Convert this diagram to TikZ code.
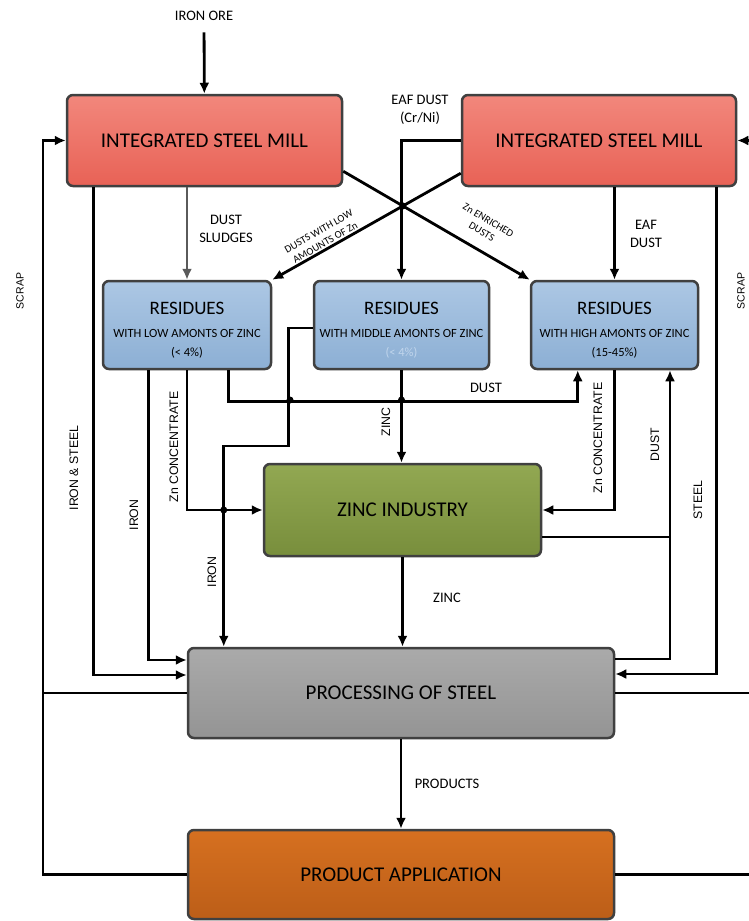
\documentclass[tikz,border=0pt]{standalone}
\usepackage{fontspec}
\setmainfont{Carlito}
\newfontfamily\labelfont{Liberation Sans}
\usepackage{xcolor}
\usepackage{tikz}
\usetikzlibrary{arrows.meta, calc, positioning}

\definecolor{edgeGray}{RGB}{64,64,64}
\definecolor{millTop}{RGB}{242,135,124}
\definecolor{millBot}{RGB}{232,98,86}
\definecolor{resTop}{RGB}{172,199,228}
\definecolor{resBot}{RGB}{140,175,212}
\definecolor{zincTop}{RGB}{146,168,82}
\definecolor{zincBot}{RGB}{120,142,60}
\definecolor{procTop}{RGB}{170,170,170}
\definecolor{procBot}{RGB}{148,148,148}
\definecolor{applTop}{RGB}{214,112,32}
\definecolor{applBot}{RGB}{188,94,24}
\definecolor{sludgeGray}{RGB}{90,90,90}
\definecolor{fadedText}{RGB}{192,213,236}

\newcommand{\restitle}{\rule{0pt}{22pt}{\fontsize{19}{23}\selectfont RESIDUES}}

\tikzset{
  box/.style={draw=edgeGray, line width=2.5pt, rounded corners=6pt, align=center,
    inner sep=0pt, text=black},
  millbox/.style={box, top color=millTop, bottom color=millBot,
    minimum height=91pt, font=\fontsize{21}{25}\selectfont},
  resbox/.style={box, top color=resTop, bottom color=resBot,
    minimum height=88pt, font=\fontsize{12.5}{19}\selectfont},
  zincbox/.style={box, top color=zincTop, bottom color=zincBot,
    minimum width=277pt, minimum height=92pt, font=\fontsize{21}{25}\selectfont},
  procbox/.style={box, top color=procTop, bottom color=procBot,
    minimum width=426pt, minimum height=90pt, font=\fontsize{21}{25}\selectfont},
  applbox/.style={box, top color=applTop, bottom color=applBot,
    minimum width=426pt, minimum height=89pt, font=\fontsize{21}{25}\selectfont},
  flow/.style={line width=2.8pt, -{Latex[length=11pt,width=10pt]}},
  link/.style={line width=2.8pt},
  lbl/.style={font=\fontsize{14.5}{18}\selectfont, align=center},
  difflbl/.style={font=\fontsize{10.5}{13}\selectfont, align=center, inner sep=1pt},
  vlbl/.style={font=\labelfont\fontsize{12.3}{14}\selectfont, rotate=90},
}

\begin{document}
\begin{tikzpicture}[x=1pt,y=-1pt]

        \useasboundingbox[fill=white] (0,0) rectangle (749,921);

        %=====================
        % Boxes
        %=====================
        \node[millbox, minimum width=275pt] (millL) at (204.5,140.5) {INTEGRATED STEEL MILL};
        \node[millbox, minimum width=274pt] (millR) at (599,140.5) {INTEGRATED STEEL MILL};

        \node[resbox, minimum width=168pt] (resLow) at (187,325)
        {\restitle\\[4pt] WITH LOW AMONTS OF ZINC\\ (< 4\%)};
        \node[resbox, minimum width=175pt] (resMid) at (401.5,325)
        {\restitle\\[4pt] WITH MIDDLE AMONTS OF ZINC\\ \textcolor{fadedText}{(< 4\%)}};
        \node[resbox, minimum width=167pt] (resHigh) at (614.5,325)
        {\restitle\\[4pt] WITH HIGH AMONTS OF ZINC\\ (15-45\%)};

        \node[zincbox] (zinc) at (402.5,510) {ZINC INDUSTRY};
        \node[procbox] (proc) at (401,693) {PROCESSING OF STEEL};
        \node[applbox] (appl) at (401,874.5) {PRODUCT APPLICATION};

        %=====================
        % Helper coordinates
        %=====================
        \coordinate (scrapL) at (43,0);
        \coordinate (edgeR) at (749,0);
        \coordinate (dgA) at ($(millL.south east)+(0,-16)$);
        \coordinate (dgB) at ($(millR.south west)+(0,-14)$);
        \coordinate (rhNW) at (resHigh.north west);
        \coordinate (rlNE) at (resLow.north east);
        \coordinate (dustA) at ($(resLow.south east)+(-44,0)$);
        \coordinate (dustB) at ($(resHigh.south west)+(48,0)$);
        \coordinate (dustR) at (670,0);
        \coordinate (zincOut) at ($(zinc.east)+(0,27)$);

        %=====================
        % Top: ore and mill outputs
        %=====================
        \node[lbl] (ore) at (204,16) {IRON ORE};
        \draw[flow, shorten <=8pt] (ore) -- (millL);

        \draw[flow, draw=sludgeGray] (millL.south -| resLow.north) -- (resLow.north);
        \node[lbl] (lblSludge) at (226,229) {DUST\\SLUDGES};

        \draw[flow] (dgA) -- (rhNW);
        \draw[flow] (dgB) -- (rlNE);
        \fill (intersection of dgA--rhNW and dgB--rlNE) circle (3.5pt);
        \node[difflbl, rotate=29.7] (lblLow) at (322,237) {DUSTS WITH LOW\\AMOUNTS OF Zn};
        \node[difflbl, rotate=-30.6] (lblHigh) at (485,226) {Zn ENRICHED\\DUSTS};

        \draw[flow] (millR.west) -| (resMid.north);
        \node[lbl] (lblEafCr) at (420,110) {EAF DUST\\(Cr/Ni)};

        \draw[flow] (millR.south -| resHigh.north) -- (resHigh.north);
        \node[lbl] (lblEaf) at (646,234) {EAF\\DUST};

        %=====================
        % Scrap loops
        %=====================
        \draw[flow] (appl.west) -- (scrapL |- appl.west) -- (scrapL |- millL.west) -- (millL.west);
        \draw[link] (proc.west) -- (scrapL |- proc.west);
        \node[vlbl, font=\labelfont\fontsize{10.5}{12}\selectfont] (lblScrapL) at (20,291) {SCRAP};

        \draw[flow] (edgeR |- millR.east) -- (millR.east);
        \draw[link] (proc.east) -- (edgeR |- proc.east);
        \draw[link] (appl.east) -- (edgeR |- appl.east);
        \node[vlbl, font=\labelfont\fontsize{10.5}{12}\selectfont] (lblScrapR) at (741,291) {SCRAP};

        %=====================
        % Mill -> processing
        %=====================
        \draw[flow] ($(millL.south west)+(28,0)$) |- ($(proc.west)+(0,-18)$);
        \node[vlbl] (lblIronSteel) at (74,468) {IRON \& STEEL};

        \draw[flow] ($(millR.south east)+(-21,0)$) |- ($(proc.east)+(0,-19)$);
        \node[vlbl] (lblSteel) at (698,500) {STEEL};

        %=====================
        % Residues outputs
        %=====================
        \draw[flow] ($(resLow.south west)+(47,0)$) |- ($(proc.west)+(0,-33)$);
        \node[vlbl] (lblIronL) at (134,515) {IRON};

        \draw[flow] (resLow.south) |- (zinc.west);
        \node[vlbl] (lblZnL) at (174,447) {Zn CONCENTRATE};

        \draw[flow] (dustA) -- ++(0,31) -| (dustB);
        \node[lbl] (lblDust) at (486,388) {DUST};
        \fill (290,400) circle (3.5pt);
        \fill (401.5,400) circle (3.5pt);

        \draw[flow] ($(resMid.west)+(0,3)$) -- ++(-24,0) -- ++(0,118) -- ++(-65,0)
        coordinate (ironK) -- (ironK |- proc.north);
        \fill (ironK |- zinc.west) circle (3.5pt);
        \node[vlbl] (lblIronM) at (212,572) {IRON};

        \draw[flow] (resMid.south) -- (resMid.south |- zinc.north);
        \node[vlbl] (lblZincV) at (386,422) {ZINC};

        \draw[flow] (resHigh.south) |- (zinc.east);
        \node[vlbl] (lblZnR) at (598,438) {Zn CONCENTRATE};

        %=====================
        % Dust back to high residues
        %=====================
        \draw[flow] ($(proc.east)+(0,-34)$) -| (resHigh.south -| dustR);
        \draw[link] (zincOut) -- (zincOut -| dustR);
        \node[vlbl] (lblDustR) at (655,445) {DUST};

        %=====================
        % Zinc and products
        %=====================
        \draw[flow] (zinc.south) -- (zinc.south |- proc.north);
        \node[lbl] (lblZinc) at (447,598) {ZINC};

        \draw[flow] (proc.south) -- (appl.north);
        \node[lbl] (lblProducts) at (447,784) {PRODUCTS};

\end{tikzpicture}
\end{document}
